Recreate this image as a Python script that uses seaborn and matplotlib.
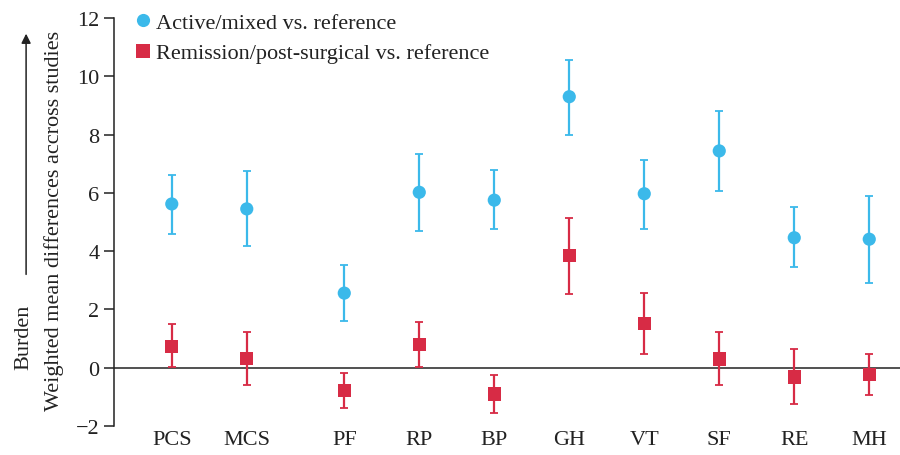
import pandas as pd
import numpy as np
import matplotlib.pyplot as plt
import seaborn as sns

# data
scales = ["PCS", "MCS", "PF", "RP", "BP", "GH", "VT", "SF", "RE", "MH"]
xpos = [0, 1, 2.3, 3.3, 4.3, 5.3, 6.3, 7.3, 8.3, 9.3]

active_mean = [5.62, 5.45, 2.56, 6.02, 5.75, 9.30, 5.97, 7.44, 4.46, 4.41]
active_low = [4.60, 4.18, 1.59, 4.70, 4.75, 8.00, 4.77, 6.06, 3.44, 2.91]
active_high = [6.62, 6.75, 3.51, 7.35, 6.77, 10.57, 7.14, 8.82, 5.50, 5.89]

remis_mean = [0.74, 0.33, -0.77, 0.81, -0.90, 3.86, 1.53, 0.30, -0.32, -0.22]
remis_low = [0.01, -0.58, -1.38, 0.01, -1.57, 2.54, 0.48, -0.59, -1.26, -0.95]
remis_high = [1.50, 1.23, -0.18, 1.57, -0.26, 5.13, 2.57, 1.21, 0.65, 0.47]

lab_active = "Active/mixed vs. reference"
lab_remis = "Remission/post-surgical vs. reference"
blue = "#3bb9ea"
red = "#d72b45"

df = pd.DataFrame({
    "x": xpos + xpos,
    "y": active_mean + remis_mean,
    "group": [lab_active] * len(xpos) + [lab_remis] * len(xpos),
})

sns.set_style("ticks")
plt.rcParams["font.family"] = ["Liberation Serif", "DejaVu Serif"]
plt.rcParams["font.size"] = 16

fig = plt.figure(figsize=(9, 4.56), dpi=100)
ax = fig.add_axes([0.1267, 0.0636, 0.8733, 0.8947])

# error bars (asymmetric)
am = np.array(active_mean)
rm = np.array(remis_mean)
ax.errorbar(xpos, am, yerr=[am - np.array(active_low), np.array(active_high) - am],
            fmt="none", ecolor=blue, elinewidth=1.6, capsize=3, capthick=1.3, zorder=2)
ax.errorbar(xpos, rm, yerr=[rm - np.array(remis_low), np.array(remis_high) - rm],
            fmt="none", ecolor=red, elinewidth=1.6, capsize=3, capthick=1.3, zorder=2)

sns.scatterplot(data=df, x="x", y="y", hue="group", style="group",
                palette={lab_active: blue, lab_remis: red},
                markers={lab_active: "o", lab_remis: "s"},
                s=90, linewidth=0, ax=ax, zorder=3, legend=True)

ax.axhline(0, color="#222222", lw=1.1, zorder=1)

ax.set_xlim(-0.77, 9.71)
ax.set_ylim(-2, 12)
ax.set_yticks(range(-2, 13, 2))
ax.set_yticklabels(["\u22122"] + [str(v) for v in range(0, 13, 2)])
ax.set_xticks(xpos)
ax.set_xticklabels(scales)
ax.tick_params(axis="x", length=0, pad=3, labelsize=16, colors="#222222")
ax.tick_params(axis="y", length=7, width=1.1, direction="out", labelsize=16,
               colors="#222222")
ax.set_xlabel("")
ax.set_ylabel("")
for side in ["top", "right", "bottom"]:
    ax.spines[side].set_visible(False)
ax.spines["left"].set_linewidth(1.1)
ax.spines["left"].set_color("#222222")

leg = ax.legend(loc="upper left", bbox_to_anchor=(0.003, 1.047), frameon=False,
                handletextpad=0.0, handlelength=1.2, labelspacing=0.45,
                fontsize=16, borderaxespad=0.2)
for t in leg.get_texts():
    t.set_color("#222222")

# y label with arrow
fig.text(0.060, 0.515, "Weighted mean differences accross studies", rotation=90,
         ha="center", va="center", fontsize=16, color="#222222")
fig.text(0.026, 0.26, "Burden", rotation=90, ha="center", va="center",
         fontsize=16, color="#222222")
ax.annotate("", xy=(0.029, 0.93), xytext=(0.029, 0.39), xycoords="figure fraction",
            textcoords="figure fraction",
            arrowprops=dict(arrowstyle="-|>", color="#222222", lw=1.1,
                            mutation_scale=14))

fig.savefig("out.png", dpi=100)
